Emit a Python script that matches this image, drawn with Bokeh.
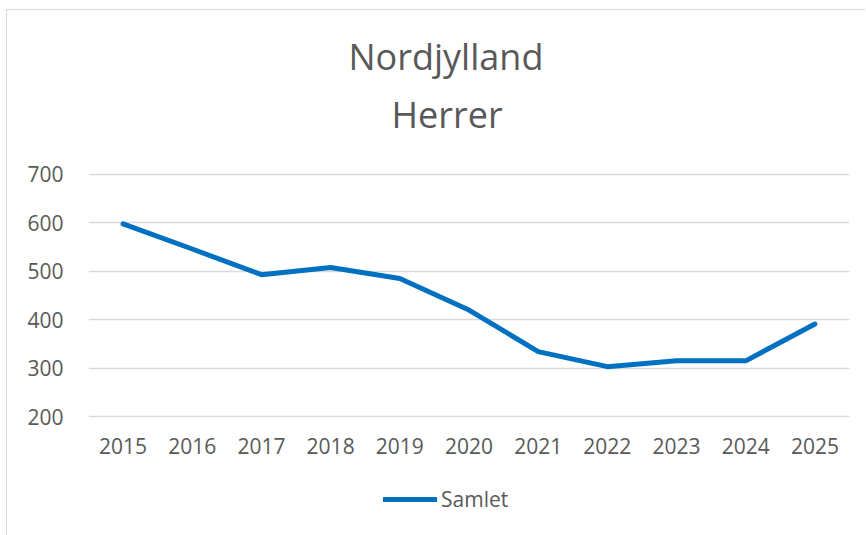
from bokeh.plotting import figure
from bokeh.layouts import column
from bokeh.models import FactorRange, Range1d, Title, Legend, LegendItem, FixedTicker
from bokeh.embed import file_html
from bokeh.resources import INLINE

years = ["2015", "2016", "2017", "2018", "2019", "2020", "2021", "2022", "2023", "2024", "2025"]
samlet = [598, 546, 493, 508, 485, 420, 334, 303, 315, 315, 391]
y_ticks = [200, 300, 400, 500, 600, 700]
series_name = "Samlet"

FONT = "Open Sans"
GREY = "#595959"
BLUE = "#0070C0"

p = figure(width=858, height=460, x_range=FactorRange(*years, range_padding=0),
           y_range=Range1d(198, 702), output_backend="svg", toolbar_location=None,
           title=None, min_border_left=81, min_border_right=16,
           min_border_top=163, min_border_bottom=53)
p.outline_line_color = None

p.add_layout(Title(text="Herrer", align="left", text_font=FONT, text_font_size="36px",
                   text_font_style="normal", text_color=GREY, standoff=70, offset=303), "above")
p.add_layout(Title(text="Nordjylland", align="left", text_font=FONT, text_font_size="36px",
                   text_font_style="normal", text_color=GREY, standoff=-56, offset=260), "above")

p.line(years, samlet, line_color=BLUE, line_width=5, line_cap="round", line_join="round")

p.yaxis.ticker = FixedTicker(ticks=y_ticks)
p.ygrid.ticker = FixedTicker(ticks=y_ticks)
p.xgrid.grid_line_color = None
p.ygrid.grid_line_color = "#d9d9d9"
p.ygrid.grid_line_width = 1.3

for ax in (p.xaxis[0], p.yaxis[0]):
    ax.axis_line_color = None
    ax.major_tick_line_color = None
    ax.minor_tick_line_color = None
    ax.major_label_text_font = FONT
    ax.major_label_text_font_size = "21px"
    ax.major_label_text_color = GREY
p.yaxis.major_label_standoff = 19
p.xaxis.major_label_standoff = 14

# legend strip below the chart
p2 = figure(width=858, height=70, x_range=p.x_range, y_range=Range1d(-2, -1),
            output_backend="svg", toolbar_location=None, title=None,
            x_axis_location=None, y_axis_location=None,
            min_border_left=0, min_border_right=0, min_border_top=0, min_border_bottom=0)
p2.outline_line_color = None
p2.grid.grid_line_color = None
r2 = p2.line(years, samlet, line_color=BLUE, line_width=5, line_cap="round", line_join="round")
legend = Legend(items=[LegendItem(label=series_name, renderers=[r2])], location=(295, 27),
                orientation="horizontal", glyph_width=54, glyph_height=20,
                label_text_font=FONT, label_text_font_size="21px", label_text_color=GREY,
                label_standoff=4, border_line_color=None, background_fill_alpha=0,
                padding=0, margin=0)
p2.add_layout(legend, "center")

layout = column(p, p2, spacing=0,
                styles={"margin-left": "6px", "margin-top": "9px",
                        "border-left": "1px solid #d9d9d9", "border-top": "1px solid #d9d9d9"})

open("out.html", "w").write(file_html(layout, INLINE))
